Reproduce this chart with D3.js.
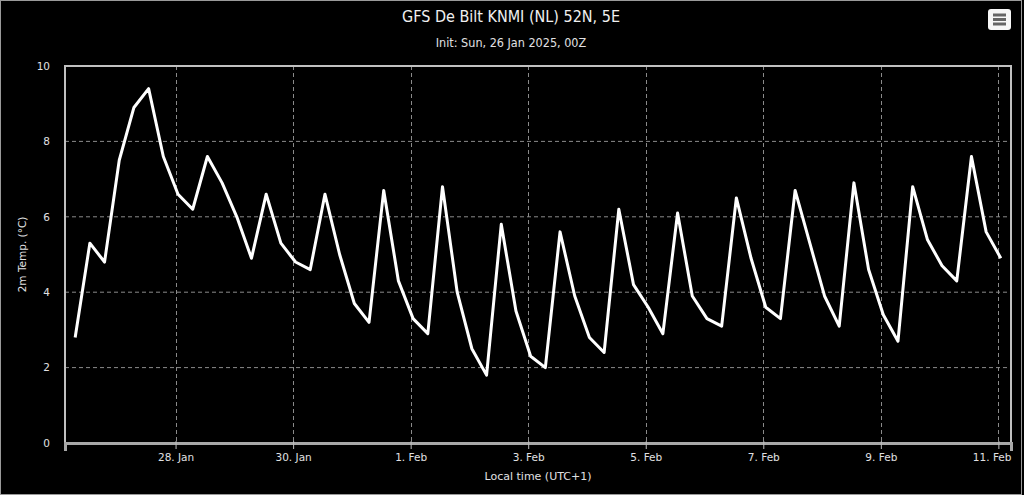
<!DOCTYPE html>
<html>
<head>
<meta charset="utf-8">
<script src="https://cdn.jsdelivr.net/npm/d3@7"></script>
<style>
  html, body { margin: 0; padding: 0; background: #000; }
  svg { display: block; }
</style>
</head>
<body>
<div class="chart"></div>
<script>
// GFS run start (local time UTC+1, first step 06Z = 07:00 local), 6-hourly steps
let startLocal = Date.UTC(2025, 0, 26, 7)
let stepHours = 6
let temps = [
  2.8, 5.3, 4.8, 7.5, 8.9, 9.4, 7.6, 6.6, 6.2, 7.6, 6.9, 6.0, 4.9,
  6.6, 5.3, 4.8, 4.6, 6.6, 5.0, 3.7, 3.2, 6.7, 4.3, 3.3, 2.9,
  6.8, 4.0, 2.5, 1.8, 5.8, 3.5, 2.3, 2.0, 5.6, 3.9, 2.8, 2.4,
  6.2, 4.2, 3.6, 2.9, 6.1, 3.9, 3.3, 3.1, 6.5, 4.9, 3.6, 3.3,
  6.7, 5.3, 3.9, 3.1, 6.9, 4.6, 3.4, 2.7, 6.8, 5.4, 4.7, 4.3,
  7.6, 5.6, 4.9
]
let yTicks = [0, 2, 4, 6, 8, 10]
let xTickDays = ["2025-01-28", "2025-01-30", "2025-02-01", "2025-02-03",
  "2025-02-05", "2025-02-07", "2025-02-09", "2025-02-11"]
let titleText = "GFS De Bilt KNMI (NL) 52N, 5E"
let subtitleText = "Init: Sun, 26 Jan 2025, 00Z"
let yTitle = "2m Temp. (°C)"
let xTitle = "Local time (UTC+1)"

let width = 1024, height = 495
let margin = { top: 66, right: 13, bottom: 52, left: 65 }
let hour = 3600 * 1000

let points = temps.map((t, i) => ({ date: new Date(startLocal + i * stepHours * hour), value: t }))

let svg = d3.select(".chart")
  .append("svg")
  .attr("width", width)
  .attr("height", height)
  .style("background", "#000")

// outer chart border
svg.append("rect")
  .attr("x", 0.5).attr("y", 0.5)
  .attr("width", 1021).attr("height", height - 1)
  .attr("fill", "none")
  .attr("stroke", "#9a9a9a")
  .attr("stroke-width", 1)

let x = d3.scaleUtc()
  .domain([new Date(points[0].date - 4.15 * hour), new Date(+points[points.length - 1].date + 4.15 * hour)])
  .range([margin.left, width - margin.right])

let y = d3.scaleLinear()
  .domain([0, 10])
  .range([height - margin.bottom, margin.top])

let xTicks = xTickDays.map(d => new Date(d + "T00:00:00Z"))
let fmt = d3.utcFormat("%-d. %b")

// grid
svg.append("g")
  .selectAll("line")
  .data(yTicks.slice(1))
  .enter()
  .append("line")
  .attr("x1", margin.left).attr("x2", width - margin.right)
  .attr("y1", d => y(d)).attr("y2", d => y(d))
  .attr("stroke", "#8a8a8a")
  .attr("stroke-width", 1)
  .attr("stroke-dasharray", "4,3")

svg.append("g")
  .selectAll("line")
  .data(xTicks)
  .enter()
  .append("line")
  .attr("x1", d => Math.round(x(d)) + 0.5).attr("x2", d => Math.round(x(d)) + 0.5)
  .attr("y1", margin.top).attr("y2", height - margin.bottom)
  .attr("stroke", "#8a8a8a")
  .attr("stroke-width", 1)
  .attr("stroke-dasharray", "4,3")

// plot border
svg.append("rect")
  .attr("x", margin.left).attr("y", margin.top)
  .attr("width", width - margin.right - margin.left)
  .attr("height", height - margin.bottom - margin.top)
  .attr("fill", "none")
  .attr("stroke", "#c0c0c0")
  .attr("stroke-width", 2)

// x axis
let xAxis = svg.append("g")
  .attr("transform", `translate(0,${height - margin.bottom})`)
  .call(d3.axisBottom(x).tickValues(xTicks).tickFormat(fmt).tickSize(8).tickPadding(3))
xAxis.select(".domain")
  .attr("stroke", "#a8a8a8")
  .attr("stroke-width", 3)
xAxis.selectAll(".tick line")
  .attr("stroke", "#c0c0c0")
  .attr("transform", "translate(0,-2)")
xAxis.selectAll(".tick text")
  .attr("fill", "#e0e0e3")
  .style("font-family", "'DejaVu Sans', Verdana, sans-serif")
  .style("font-size", "10.5px")

// keep the last label inside the plot, like the original does
let plotRight = width - margin.right
xAxis.selectAll(".tick text").each(function () {
  let box = this.getBBox()
  let tx = x(d3.select(this.parentNode).datum())
  if (tx + box.x + box.width > plotRight) {
    d3.select(this).attr("text-anchor", "end").attr("x", plotRight - tx)
  }
})

// y axis
let yAxis = svg.append("g")
  .attr("transform", `translate(${margin.left},0)`)
  .call(d3.axisLeft(y).tickValues(yTicks).tickSize(0).tickPadding(15))
yAxis.select(".domain").remove()
yAxis.selectAll(".tick text")
  .attr("fill", "#e0e0e3")
  .style("font-family", "'DejaVu Sans', Verdana, sans-serif")
  .style("font-size", "10.5px")

// line
let line = d3.line()
  .x(d => x(d.date))
  .y(d => y(d.value))

svg.append("path")
  .datum(points)
  .attr("fill", "none")
  .attr("stroke", "#fff")
  .attr("stroke-width", 3)
  .attr("stroke-linejoin", "round")
  .attr("d", line)

// titles
svg.append("text")
  .attr("x", 511).attr("y", 22)
  .attr("text-anchor", "middle")
  .attr("fill", "#f0f0f0")
  .style("font-family", "'Liberation Sans Narrow', 'DejaVu Sans Condensed', sans-serif")
  .style("font-size", "16px")
  .text(titleText)

svg.append("text")
  .attr("x", 511).attr("y", 47)
  .attr("text-anchor", "middle")
  .attr("fill", "#e0e0e3")
  .style("font-family", "'Liberation Sans Narrow', 'DejaVu Sans Condensed', sans-serif")
  .style("font-size", "12.5px")
  .text(subtitleText)

svg.append("text")
  .attr("transform", `translate(26,${(margin.top + height - margin.bottom) / 2}) rotate(-90)`)
  .attr("text-anchor", "middle")
  .attr("fill", "#e0e0e3")
  .style("font-family", "'DejaVu Sans', Verdana, sans-serif")
  .style("font-size", "10.5px")
  .text(yTitle)

svg.append("text")
  .attr("x", (margin.left + width - margin.right) / 2).attr("y", 480)
  .attr("text-anchor", "middle")
  .attr("fill", "#e0e0e3")
  .style("font-family", "'DejaVu Sans', Verdana, sans-serif")
  .style("font-size", "11px")
  .text(xTitle)

// export menu button
let menu = svg.append("g").attr("transform", "translate(988,9)")
menu.append("rect")
  .attr("width", 23).attr("height", 21)
  .attr("rx", 3)
  .attr("fill", "#f7f7f7")
menu.selectAll("line")
  .data([6, 10.5, 15])
  .enter()
  .append("line")
  .attr("x1", 5).attr("x2", 18)
  .attr("y1", d => d).attr("y2", d => d)
  .attr("stroke", "#666")
  .attr("stroke-width", 3)
</script>
</body>
</html>
